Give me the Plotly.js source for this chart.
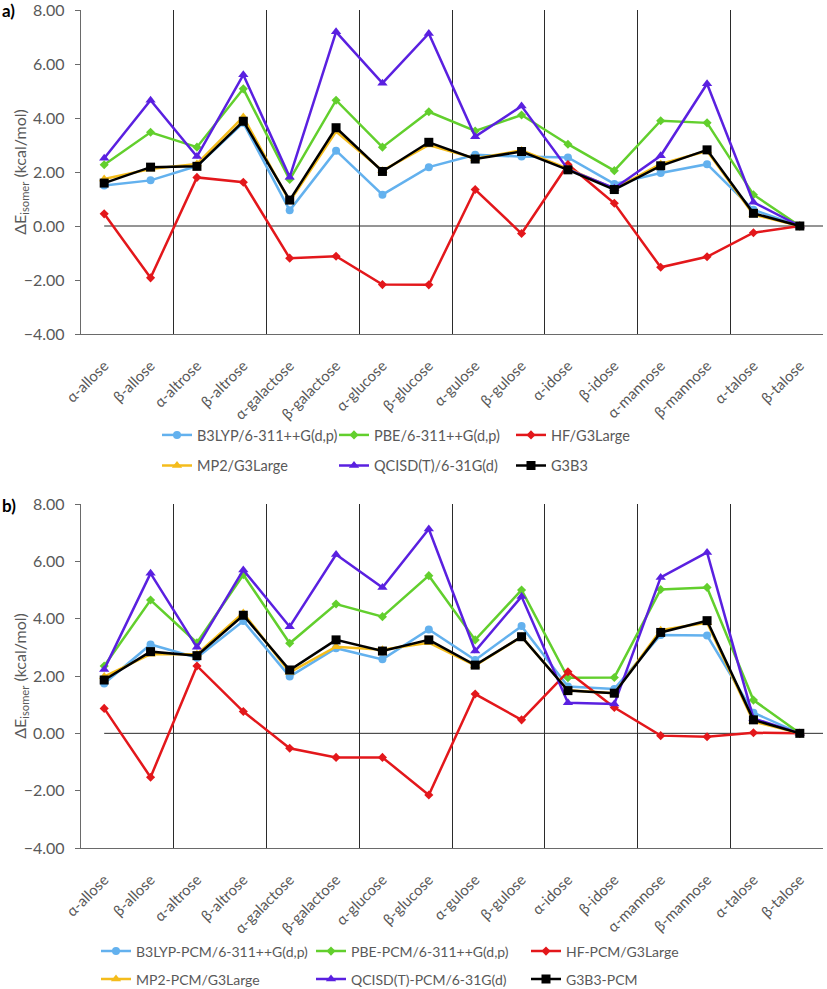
<!DOCTYPE html>
<html>
<head>
<meta charset="utf-8">
<script src="https://cdn.plot.ly/plotly-3.0.1.min.js"></script>
<style>html,body{margin:0;padding:0;background:#fff;}#chart{width:827px;height:989px;}</style>
</head>
<body>
<div id="chart"></div>
<script>
// ---------- DATA ----------
const categories = ['α-allose','β-allose','α-altrose','β-altrose','α-galactose','β-galactose','α-glucose','β-glucose','α-gulose','β-gulose','α-idose','β-idose','α-mannose','β-mannose','α-talose','β-talose'];

const namesGas = ['B3LYP/6-311++G(d,p)','PBE/6-311++G(d,p)','HF/G3Large','MP2/G3Large','QCISD(T)/6-31G(d)','G3B3'];
const namesPCM = ['B3LYP-PCM/6-311++G(d,p)','PBE-PCM/6-311++G(d,p)','HF-PCM/G3Large','MP2-PCM/G3Large','QCISD(T)-PCM/6-31G(d)','G3B3-PCM'];

// panel a) gas phase
const b3lypGas = [1.50, 1.69, 2.22, 3.82, 0.58, 2.79, 1.16, 2.18, 2.64, 2.57, 2.54, 1.56, 1.96, 2.29, 0.60, 0.00];
const pbeGas   = [2.27, 3.47, 2.92, 5.08, 1.72, 4.66, 2.92, 4.23, 3.52, 4.11, 3.03, 2.05, 3.90, 3.82, 1.16, 0.00];
const hfGas    = [0.45, -1.92, 1.80, 1.62, -1.19, -1.12, -2.17, -2.18, 1.35, -0.28, 2.28, 0.84, -1.53, -1.14, -0.25, 0.00];
const mp2Gas   = [1.74, 2.11, 2.30, 4.04, 0.90, 3.50, 2.05, 3.00, 2.50, 2.80, 2.12, 1.38, 2.30, 2.78, 0.42, 0.00];
const qcisdGas = [2.51, 4.66, 2.57, 5.60, 1.81, 7.19, 5.29, 7.13, 3.31, 4.44, 2.10, 1.40, 2.60, 5.27, 0.88, 0.00];
const g3b3Gas  = [1.59, 2.18, 2.21, 3.88, 0.96, 3.64, 2.02, 3.10, 2.48, 2.76, 2.08, 1.35, 2.23, 2.82, 0.47, 0.00];

// panel b) PCM
const b3lypPCM = [1.74, 3.10, 2.64, 3.92, 1.98, 2.97, 2.58, 3.62, 2.56, 3.74, 1.63, 1.55, 3.43, 3.41, 0.72, 0.00];
const pbePCM   = [2.35, 4.65, 3.16, 5.53, 3.14, 4.51, 4.07, 5.50, 3.26, 5.00, 1.94, 1.95, 5.02, 5.09, 1.16, 0.00];
const hfPCM    = [0.87, -1.53, 2.35, 0.76, -0.52, -0.84, -0.84, -2.15, 1.37, 0.47, 2.15, 0.90, -0.08, -0.12, 0.02, 0.00];
const mp2PCM   = [1.98, 2.76, 2.76, 4.20, 2.13, 3.02, 2.92, 3.16, 2.36, 3.37, 1.50, 1.40, 3.60, 3.86, 0.41, 0.00];
const qcisdPCM = [2.23, 5.58, 3.00, 5.70, 3.72, 6.24, 5.09, 7.13, 2.87, 4.77, 1.07, 1.02, 5.44, 6.31, 0.52, 0.00];
const g3b3PCM  = [1.86, 2.85, 2.71, 4.12, 2.21, 3.26, 2.87, 3.26, 2.38, 3.37, 1.49, 1.40, 3.52, 3.93, 0.47, 0.00];

const yTicks = [-4, -2, 0, 2, 4, 6, 8];

// ---------- STYLE ----------
const FONT = 'Lato, "Open Sans", sans-serif';
const GREY = '#595959';
const styles = [
  {color:'#63B1EE', symbol:'circle', size:8},
  {color:'#62CF2D', symbol:'diamond', size:7},
  {color:'#E3171B', symbol:'diamond', size:7},
  {color:'#F4BC1C', symbol:'triangle-up', size:9},
  {color:'#5A20E0', symbol:'triangle-up', size:9},
  {color:'#000000', symbol:'square', size:9}
];

const W = 827, H = 989;
const M = {l: 81, r: 4, t: 10, b: 141};
const plotH = H - M.t - M.b;
const plotW = W - M.l - M.r;
const pyToPaper = py => (H - M.b - py) / plotH;

const xIdx = categories.map((_, i) => i);
const pairBounds = categories.map((_, i) => i).filter(i => i % 2 === 1).map(i => i + 0.5);

function build(seriesList, names, xa, ya, legA, legB) {
  return seriesList.map((vals, k) => ({
    type: 'scatter', mode: 'lines+markers',
    x: xIdx, y: vals, name: names[k],
    xaxis: xa, yaxis: ya,
    legend: k < 3 ? legA : legB,
    line: {color: styles[k].color, width: 2.5},
    marker: {color: styles[k].color, symbol: styles[k].symbol, size: styles[k].size},
    hoverinfo: 'x+y+name'
  }));
}

const traces = [].concat(
  build([b3lypGas, pbeGas, hfGas, mp2Gas, qcisdGas, g3b3Gas], namesGas, 'x', 'y', 'legend', 'legend2'),
  build([b3lypPCM, pbePCM, hfPCM, mp2PCM, qcisdPCM, g3b3PCM], namesPCM, 'x2', 'y2', 'legend3', 'legend4')
);

function xAxis(anchor) {
  return {
    anchor: anchor, domain: [0, 1], type: 'linear',
    range: [-0.5, categories.length - 0.5],
    tickmode: 'array', tickvals: xIdx, ticktext: categories,
    tickangle: -45, ticks: '', ticklabelstandoff: 16,
    tickfont: {family: FONT, size: 15, color: GREY},
    showgrid: false, zeroline: false,
    showline: true, linecolor: '#6a6a6a', linewidth: 1.3,
    minor: {tickmode: 'array', tickvals: pairBounds, showgrid: true, gridcolor: '#2b2b2b', gridwidth: 1, ticks: ''},
    automargin: false, fixedrange: true
  };
}
function yAxis(anchor, domain) {
  return {
    anchor: anchor, domain: domain,
    range: [-4, 8], tickmode: 'array', tickvals: yTicks, tickformat: '.2f',
    ticks: 'outside', ticklen: 5, tickcolor: '#6a6a6a', tickwidth: 1,
    ticklabelstandoff: 7, ticklabeloverflow: 'allow',
    tickfont: {family: FONT, size: 16, color: GREY},
    showgrid: false, zeroline: false,
    showline: true, linecolor: '#6a6a6a', linewidth: 1.3,
    title: {text: 'ΔE<sub>isomer</sub> (kcal/mol)', font: {family: FONT, size: 16, color: GREY}},
    automargin: false, fixedrange: true
  };
}

// legends placed by pixel position converted to paper coordinates
function legend(px, py, ew, fs) {
  return {
    orientation: 'h',
    x: (px - M.l) / plotW, y: pyToPaper(py),
    xanchor: 'left', yanchor: 'middle',
    entrywidth: ew, entrywidthmode: 'pixels', itemwidth: 30,
    bgcolor: 'rgba(0,0,0,0)', borderwidth: 0,
    font: {family: FONT, size: fs, color: GREY}
  };
}

const layout = {
  width: W, height: H,
  margin: {l: M.l, r: M.r, t: M.t, b: M.b, autoexpand: false},
  paper_bgcolor: '#fff', plot_bgcolor: '#fff',
  font: {family: FONT, color: GREY},
  xaxis: xAxis('y'),
  yaxis: yAxis('x', [pyToPaper(334), 1]),
  xaxis2: xAxis('y2'),
  yaxis2: yAxis('x2', [0, pyToPaper(504)]),
  legend:  legend(157, 435, 132, 14.5),
  legend2: legend(157, 465.5, 132, 14.5),
  legend3: legend(96, 951.5, 170, 14),
  legend4: legend(96, 979.5, 170, 14),
  shapes: [
    {type: 'line', xref: 'x', yref: 'y', x0: 0, x1: categories.length - 0.5, y0: 0, y1: 0, line: {color: '#2b2b2b', width: 1}, layer: 'below'},
    {type: 'line', xref: 'x2', yref: 'y2', x0: 0, x1: categories.length - 0.5, y0: 0, y1: 0, line: {color: '#2b2b2b', width: 1}, layer: 'below'}
  ],
  annotations: [
    {text: '<b>a)</b>', xref: 'paper', yref: 'paper', x: -M.l / plotW, y: pyToPaper(10), xanchor: 'left', yanchor: 'middle', showarrow: false, font: {family: FONT, size: 17, color: '#000'}},
    {text: '<b>b)</b>', xref: 'paper', yref: 'paper', x: -M.l / plotW, y: pyToPaper(505), xanchor: 'left', yanchor: 'middle', showarrow: false, font: {family: FONT, size: 17, color: '#000'}}
  ],
  hovermode: 'closest'
};

Plotly.newPlot('chart', traces, layout, {displayModeBar: false});
</script>
</body>
</html>
